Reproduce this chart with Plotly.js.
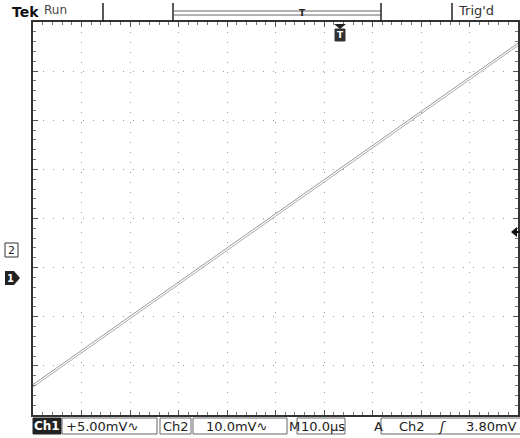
<!DOCTYPE html>
<html><head><meta charset="utf-8">
<script src="https://cdn.plot.ly/plotly-3.0.1.min.js"></script>
<style>html,body{margin:0;padding:0;background:#fff;}#c{width:520px;height:438px;}</style>
</head><body><div id="c"></div>
<script>
// time in divisions (10 div across, M 10.0us/div), voltage in divisions
const timeDiv = [0, 10];
const ch1Div = [-3.38, 3.57];
const ch2Div = [-3.43, 3.52];
const labels = {tek: 'Tek', run: 'Run', trig: "Trig'd", ch1: 'Ch1', ch1scale: '+5.00mV\u223F', ch2: 'Ch2', ch2scale: '10.0mV\u223F', m: 'M', time: '10.0\u00B5s', a: 'A', trigSrc: 'Ch2', trigSlope: '\u0283', trigLvl: '3.80mV'};

const L = 33, R = 518, T = 22, B = 415;
const px = X => (X - L) / (R - L);
const py = Y => (B - Y) / (B - T);
const font = {family: 'DejaVu Sans, Liberation Sans, sans-serif', size: 12, color: '#222'};

const traces = [
  {x: timeDiv, y: ch1Div, mode: 'lines', line: {color: '#999', width: 1}, hoverinfo: 'skip'},
  {x: timeDiv, y: ch2Div, mode: 'lines', line: {color: '#aaa', width: 1}, hoverinfo: 'skip'}
];

const shapes = [];
const ann = [];
function line(x0,y0,x1,y1,w,c){shapes.push({type:'line',xref:'paper',yref:'paper',x0:px(x0),y0:py(y0),x1:px(x1),y1:py(y1),line:{color:c||'#222',width:w||1}});}
function rect(x0,y0,x1,y1,fill,lc){shapes.push({type:'rect',xref:'paper',yref:'paper',x0:px(x0),y0:py(y0),x1:px(x1),y1:py(y1),fillcolor:fill||'rgba(0,0,0,0)',line:{color:lc||'#333',width:1}});}
function text(t,X,Y,opt){ann.push(Object.assign({text:t,xref:'paper',yref:'paper',x:px(X),y:py(Y),showarrow:false,xanchor:'left',yanchor:'middle',font:font},opt||{}));}
function path(pts,fill){shapes.push({type:'path',xref:'paper',yref:'paper',path:pts.map((p,i)=>(i?'L':'M')+px(p[0])+','+py(p[1])).join(' ')+' Z',fillcolor:fill,line:{width:0}});}
const f = (s,extra) => Object.assign({}, font, {size: s}, extra||{});

// top bar
text('<b>'+labels.tek+'</b>', 10, 12, {font:f(14,{color:'#111'})});
text(labels.run, 42, 10, {font:f(12,{color:'#444'})});
line(103,3,103,22,1.5);
line(173,3,173,22,1.5);
line(173,11,381,11,1,'#666');
line(173,15,381,15,1,'#666');
line(381,3,381,22,1.5);
line(452,3,452,22,1.5);
text(labels.trig, 456, 11, {font:f(13,{color:'#333'})});
// trigger position marker on the record bar
text('<b>T</b>', 302, 13, {xanchor:'center', font:f(9)});
// trigger mark under top border
path([[334,24],[346,24],[340,29]], '#222');
rect(335,29,345,41,'#333','#333');
text('<b>T</b>', 340, 35, {xanchor:'center', font:{family:font.family,size:9,color:'#fff'}});

// channel ground markers
rect(5,243,18,257,'#fff','#333');
text('2', 11.5, 250, {xanchor:'center', font:f(11)});
path([[5,271],[14,271],[20,278],[14,285],[5,285]], '#222');
text('<b>1</b>', 10.5, 278, {xanchor:'center', font:{family:font.family,size:10,color:'#fff'}});
// trigger level arrow
path([[511,232],[517,227],[517,237]], '#111');
line(516,232,520,232,2,'#111');

// bottom readout
rect(33,418,61,434,'#222','#222');
text('<b>'+labels.ch1+'</b>', 47, 426, {xanchor:'center', font:{family:font.family,size:12,color:'#fff'}});
rect(62,418,157,434,'#fff','#666');
text(labels.ch1scale, 64, 426, {font:f(13)});
rect(160,418,191,434,'#fff','#666');
text(labels.ch2, 175.5, 426, {xanchor:'center', font:f(13)});
rect(193,418,287,434,'#fff','#666');
text(labels.ch2scale, 204, 426, {font:f(13)});
text(labels.m, 287, 426, {font:f(13)});
rect(297,418,345,434,'#fff','#666');
text(labels.time, 299, 426, {font:f(13)});
text(labels.a, 372, 426, {font:f(13)});
rect(381,418,522,434,'#fff','#666');
text(labels.trigSrc, 397, 426, {font:f(13)});
text('<i>\u0283</i>', 436, 426, {font:f(13)});
text(labels.trigLvl, 464, 426, {font:f(13)});

const axisCommon = {
  showgrid: true, griddash: '1px 9px', gridcolor: '#9a9a9a', gridwidth: 1,
  zeroline: false, showline: true, linecolor: '#333', linewidth: 2, mirror: 'ticks',
  ticks: 'inside', ticklen: 5, tickcolor: '#555', showticklabels: false, fixedrange: true,
  minor: {dtick: 0.2, ticks: 'inside', ticklen: 3, tickcolor: '#777', showgrid: false}
};

const layout = {
  width: 520, height: 438,
  margin: {l: L, r: 520 - R, t: T, b: 438 - B, pad: 0},
  paper_bgcolor: '#fff', plot_bgcolor: '#fff',
  showlegend: false,
  xaxis: Object.assign({}, axisCommon, {range: [0, 10], dtick: 1, tick0: 0}),
  yaxis: Object.assign({}, axisCommon, {range: [-4, 4], dtick: 1, tick0: 0}),
  shapes: shapes, annotations: ann
};
Plotly.newPlot('c', traces, layout, {staticPlot: true, displayModeBar: false});
</script></body></html>
